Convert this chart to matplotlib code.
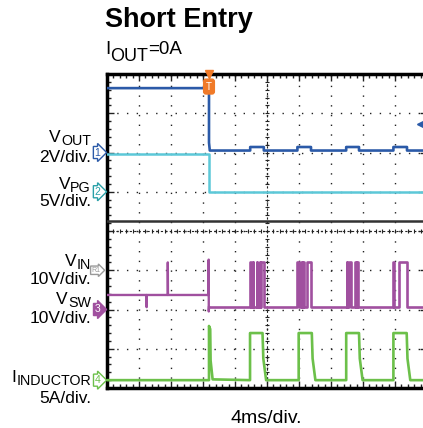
import numpy as np
import matplotlib
matplotlib.use("Agg")
import matplotlib.pyplot as plt

plt.rcParams["font.family"] = ["Liberation Sans", "DejaVu Sans"]

# time in ms (4 ms/div, 10 div), levels in screen divisions (0-8)
T_END = 40.0
TRIG = 12.75

# ch1 V_OUT (2 V/div), ground at 6 div
vout_t = [0, 12.75, 12.75, 12.85, 17.9, 17.9, 19.6, 19.6, 23.8, 23.8, 25.5, 25.5,
          29.9, 29.9, 31.5, 31.5, 35.8, 35.8, 37.5, 37.5, 40]
vout_v = [7.64, 7.64, 6.25, 6.05, 6.05, 6.14, 6.14, 6.05, 6.05, 6.14, 6.14, 6.05,
          6.05, 6.14, 6.14, 6.05, 6.05, 6.14, 6.14, 6.05, 6.05]

# ch2 V_PG (5 V/div), ground at 5 div
vpg_t = [0, 12.75, 12.75, 40]
vpg_v = [5.97, 5.97, 4.99, 4.99]

# ref R1 V_IN (10 V/div), ground at 3 div
vin_t = [0, 40]
vin_v = [4.25, 4.25]

# ch3 V_SW (10 V/div), ground at 2 div
vsw_pre_t = [0, 4.95, 4.95, 4.97, 7.6, 7.6, 7.62, 12.7, 12.7, 12.72, 12.72, 12.75]
vsw_pre_v = [2.37, 2.37, 2.06, 2.37, 2.37, 3.2, 2.37, 2.37, 3.27, 3.27, 1.95, 2.06]
vsw_low, vsw_high = 2.06, 3.2
vsw_bursts = [(17.88, 17.95), (18.2, 18.27), (18.7, 18.77), (19.1, 19.17), (19.3, 19.6),
              (23.8, 24.0), (24.3, 24.37), (24.5, 24.57), (25.0, 25.5),
              (29.96, 30.03), (30.3, 30.45), (31.0, 31.1), (31.3, 31.4),
              (35.8, 35.87), (36.5, 37.45)]

# ch4 I_INDUCTOR (5 A/div), ground at 0.2 div
il_spike_t = [0, 12.75, 12.75, 12.9, 12.95, 13.2]
il_spike_v = [0.2, 0.2, 1.58, 1.5, 0.7, 0.22]
il_base, il_top, il_fall = 0.2, 1.4, 0.75
il_pulses = [(17.88, 19.44), (23.96, 25.6), (29.9, 31.5), (35.8, 37.46)]

C_VOUT = "#2b5aa8"
C_VPG = "#5cc8d8"
C_VIN = "#333333"
C_VSW = "#a0509f"
C_IL = "#6cc04a"
C_TRIG = "#f07a28"


def square(t0, t1, low, high, pulses):
    t, v = [t0], [low]
    for a, b in pulses:
        t += [a, a, b, b]
        v += [low, high, high, low]
    t.append(t1)
    v.append(low)
    return t, v


def inductor(t0, t1):
    t, v = list(il_spike_t), list(il_spike_v)
    for a, b in il_pulses:
        t += [a, a, b, b + 0.1, b + 0.45]
        v += [il_base, il_top, il_top, il_fall, il_base]
    t.append(t1)
    v.append(il_base)
    return t, v


W, H = 423, 428
fig = plt.figure(figsize=(W / 100, H / 100), dpi=100)
renderer = fig.canvas.get_renderer()


def sub_text(x, y, main, sub, size, subsize, drop, ha="left", tail=""):
    # main text + lowered subscript (+ optional tail), pixels from top-left
    if ha == "left":
        t = fig.text(x / W, 1 - y / H, main, fontsize=size, va="baseline")
        x += t.get_window_extent(renderer).width
        t = fig.text(x / W, 1 - (y + drop) / H, sub, fontsize=subsize, va="baseline")
        x += t.get_window_extent(renderer).width
        if tail:
            fig.text(x / W, 1 - y / H, tail, fontsize=size, va="baseline")
    else:
        t = fig.text(x / W, 1 - (y + drop) / H, sub, fontsize=subsize, va="baseline", ha="right")
        w = t.get_window_extent(renderer).width
        fig.text((x - w) / W, 1 - y / H, main, fontsize=size, va="baseline", ha="right")


ax = fig.add_axes([107 / W, 40 / H, 320 / W, 314 / H])
ax.set_xlim(0, T_END)
ax.set_ylim(0, 8)

# scope graticule
ax.set_xticks(np.arange(0, 40.1, 4))
ax.set_xticks(np.arange(0, 40.1, 0.8), minor=True)
ax.set_yticks(np.arange(0, 8.1, 1))
ax.set_yticks(np.arange(0, 8.1, 0.2), minor=True)
ax.tick_params(which="both", direction="in", top=True, right=True,
               labelbottom=False, labelleft=False, width=1, color="#222")
ax.tick_params(which="major", length=5)
ax.tick_params(which="minor", length=3)
ax.grid(True, which="major", color="#222", linestyle=(0, (1, 6)), lw=1.0, zorder=1)
for s in ax.spines.values():
    s.set_linewidth(2.5)
ax.axhline(4, color="#222", lw=0.8, ls=(0, (2, 2)), zorder=1)
ax.axvline(20, color="#222", lw=0.8, ls=(0, (2, 2)), zorder=1)
xs = np.arange(0, 40.1, 0.8)
ys = np.arange(0, 8.1, 0.2)
ax.plot(xs, np.full_like(xs, 4), ls="none", marker="|", ms=3, mew=0.8, color="#222", zorder=1)
ax.plot(np.full_like(ys, 20), ys, ls="none", marker="_", ms=3, mew=0.8, color="#222", zorder=1)

# traces
ax.plot(vin_t, vin_v, color=C_VIN, lw=1.8, zorder=3)
ax.plot(vpg_t, vpg_v, color=C_VPG, lw=1.8, zorder=3)
ax.plot(vout_t, vout_v, color=C_VOUT, lw=1.9, zorder=4)
ax.plot(vsw_pre_t, vsw_pre_v, color=C_VSW, lw=1.7, zorder=3)
t, v = square(TRIG, T_END, vsw_low, vsw_high, vsw_bursts)
ax.plot(t, v, color=C_VSW, lw=1.9, zorder=3)
t, v = inductor(0, T_END)
ax.plot(t, v, color=C_IL, lw=1.9, zorder=3)

# trigger marker and trigger level marker
ax.plot(TRIG, 8, marker="v", color=C_TRIG, ms=6, clip_on=False, zorder=6)
ax.text(TRIG, 7.68, "T", color="white", fontsize=7, ha="center", va="center", zorder=7,
        bbox=dict(boxstyle="round,pad=0.25", fc=C_TRIG, ec=C_TRIG))
ax.plot(39.25, 6.73, marker="<", color=C_VOUT, ms=6, clip_on=False, zorder=6)

# channel tags on the left edge
tags = [("1", 6.0, C_VOUT, False, 7.5), ("2", 5.0, "#2aa0a8", False, 7.5),
        ("R1", 3.0, "#999999", False, 5.0), ("3", 2.0, C_VSW, True, 7.5),
        ("4", 0.2, C_IL, False, 7.5)]
for lab, y, c, filled, fs in tags:
    ax.text(-0.021, y, lab, transform=ax.get_yaxis_transform(), ha="right", va="center",
            fontsize=fs, color="white" if filled else c, clip_on=False, zorder=6,
            bbox=dict(boxstyle="rarrow,pad=0.1", fc=c if filled else "white", ec=c, lw=1.0))

# left labels
rows = [("V", "OUT", 142, "2V/div.", 162),
        ("V", "PG", 189, "5V/div.", 206),
        ("V", "IN", 266, "10V/div.", 284),
        ("V", "SW", 304, "10V/div.", 323),
        ("I", "INDUCTOR", 382, "5A/div.", 403)]
for main, sub, y1, scale, y2 in rows:
    sub_text(91, y1, main, sub, 12.5, 10.3, 3, ha="right")
    fig.text(91 / W, 1 - y2 / H, scale, ha="right", va="baseline", fontsize=12.5)

fig.text(105 / W, 1 - 27 / H, "Short Entry", fontsize=19.5, weight="bold", va="baseline")
sub_text(105, 54, "I", "OUT", 13.5, 13, 7, tail="=0A")
fig.text(266 / W, 1 - 423 / H, "4ms/div.", fontsize=14, ha="center", va="baseline")

fig.savefig("out.png", dpi=100)
